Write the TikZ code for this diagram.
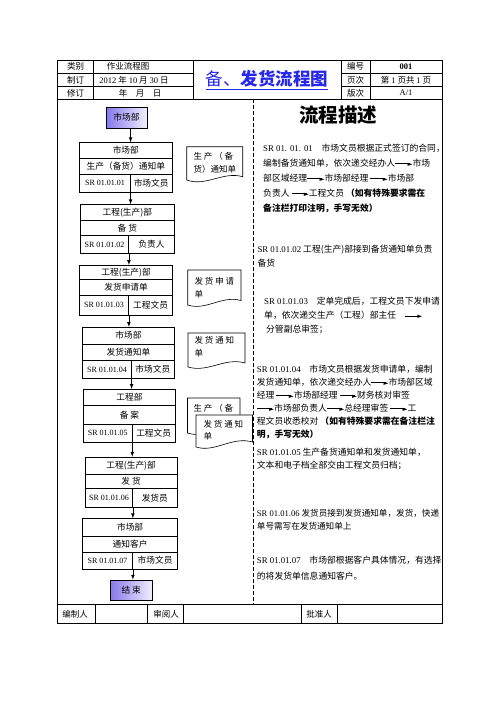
\documentclass[tikz,border=0pt]{standalone}
\usepackage{fontspec}
\setmainfont{Noto Sans CJK SC}
\newfontfamily\lat{Liberation Serif}
\newfontfamily\sym{DejaVu Sans}
\newcommand{\fsz}[2]{\fontsize{#1}{#2}\selectfont}
\newcommand{\jt}{\raisebox{0.3em}{\rule{1.7em}{0.6pt}}\kern-0.3em\raisebox{0.02em}{\sym\fsz{6.5}{6.5}►}}
\definecolor{titleblue}{RGB}{40,40,235}
\definecolor{startpurple}{RGB}{135,120,235}

\tikzset{
  cell/.style={draw, line width=0.6pt, anchor=north west, inner sep=0pt, font=\fsz{8.7}{10}},
  code/.style={font=\lat\fsz{8}{10}},
  doc/.style={draw, line width=0.6pt, fill=white},
  doctext/.style={anchor=north west, inner sep=0pt, align=left, font=\fsz{8.5}{12.5}},
  desc/.style={anchor=north west, inner sep=0pt, align=left, font=\fsz{8.8}{14}},
  hdr/.style={inner sep=0pt, font=\fsz{8.5}{10}},
  arr/.style={-latex, line width=0.7pt},
  frame/.style={line width=0.8pt},
}

\begin{document}
\begin{tikzpicture}[x=1pt, y=-1pt]
    \useasboundingbox (0,0) rectangle (496,702);

    % Frame and table lines
    \draw[frame] (57.7,60) rectangle (442,623.3);
    \draw[frame] (57.7,73.3) -- (193.3,73.3) (341,73.3) -- (442,73.3);
    \draw[frame] (57.7,86.7) -- (193.3,86.7) (341,86.7) -- (442,86.7);
    \draw[frame] (57.7,99) -- (442,99);
    \draw[frame] (93.3,60) -- (93.3,99) (193.3,60) -- (193.3,99);
    \draw[frame] (341,60) -- (341,99) (370,60) -- (370,99);
    \draw[frame] (57.7,604.3) -- (442,604.3);
    \foreach \x in {95.7,147.3,183.3,301.7,337.7}
        \draw[frame] (\x,604.3) -- (\x,623.3);
    \draw[line width=0.6pt, dash pattern=on 4pt off 2pt] (253.5,99) -- (253.5,604.3);

    % Header texts
    \node[hdr] (h1) at (75.5,66.7) {类别};
    \node[hdr] (h2) at (75.5,80) {制订};
    \node[hdr] (h3) at (75.5,92.8) {修订};
    \node[hdr] (h4) at (128,66.7) {作业流程图};
    \node[hdr] (h5) at (134,80) {{\lat 2012} 年 {\lat 10} 月\ {\lat 30} 日};
    \node[hdr] (h6) at (140,92.8) {年\quad 月\quad 日};
    \node[inner sep=0pt, text=titleblue, font=\fsz{17.5}{20}] (title) at (267,80)
        {\underline{备、{\bfseries 发货流程图}}};
    \node[hdr] (h7) at (355.5,66.7) {编号};
    \node[hdr] (h8) at (355.5,80) {页次};
    \node[hdr] (h9) at (355.5,92.8) {版次};
    \node[hdr, font=\lat\bfseries\fsz{8.5}{10}] (h10) at (406,66.7) {001};
    \node[hdr] (h11) at (406,80) {第 {\lat 1} 页共 {\lat 1} 页};
    \node[hdr, font=\lat\fsz{8.5}{10}] (h12) at (406,92.8) {A/1};

    % Footer texts
    \node[hdr] (f1) at (75,613.8) {编制人};
    \node[hdr] (f2) at (166,613.8) {审阅人};
    \node[hdr] (f3) at (319,613.8) {批准人};

    % Start
    \node[draw, line width=0.6pt, left color=startpurple, right color=startpurple!12,
          minimum width=41pt, minimum height=21pt, inner sep=0pt, font=\fsz{8.7}{10}]
          (start) at (126.5,117.6) {市场部};

    % Box 1 (市场部)
    \node[cell, minimum width=92.4pt, minimum height=16pt] (b1a) at (79.3,142.3) {市场部};
    \node[cell, minimum width=92.4pt, minimum height=16pt] (b1b) at (79.3,158.3) {生产（备货）通知单};
    \node[cell, code, minimum width=50.7pt, minimum height=17.4pt] (b1c) at (79.3,174.3) {SR 01.01.01};
    \node[cell, minimum width=41.7pt, minimum height=17.4pt] (b1d) at (130,174.3) {市场文员};

    % Box 2 (工程(生产)部 备货)
    \node[cell, minimum width=94pt, minimum height=15.7pt] (b2a) at (80,204.3) {工程(生产)部};
    \node[cell, minimum width=94pt, minimum height=15pt] (b2b) at (80,220) {备\ 货};
    \node[cell, code, minimum width=48.3pt, minimum height=18.3pt] (b2c) at (80,235) {SR 01.01.02};
    \node[cell, minimum width=45.7pt, minimum height=18.3pt] (b2d) at (128.3,235) {负责人};

    % Box 3 (工程(生产)部 发货申请单)
    \node[cell, minimum width=93pt, minimum height=14.3pt] (b3a) at (79.3,265) {工程(生产)部};
    \node[cell, minimum width=93pt, minimum height=15.7pt] (b3b) at (79.3,279.3) {发货申请单};
    \node[cell, code, minimum width=49pt, minimum height=20pt] (b3c) at (79.3,295) {SR 01.01.03};
    \node[cell, minimum width=44pt, minimum height=20pt] (b3d) at (128.3,295) {工程文员};

    % Box 4 (市场部 发货通知单)
    \node[cell, minimum width=91.7pt, minimum height=16.5pt] (b4a) at (82.3,327) {市场部};
    \node[cell, minimum width=91.7pt, minimum height=16.5pt] (b4b) at (82.3,343.5) {发货通知单};
    \node[cell, code, minimum width=48.7pt, minimum height=18.3pt] (b4c) at (82.3,360) {SR 01.01.04};
    \node[cell, minimum width=43pt, minimum height=18.3pt] (b4d) at (131,360) {市场文员};

    % Box 5 (工程部 备案)
    \node[cell, minimum width=91.7pt, minimum height=16pt] (b5a) at (83.3,389) {工程部};
    \node[cell, minimum width=91.7pt, minimum height=19.3pt] (b5b) at (83.3,405) {备\ 案};
    \node[cell, code, minimum width=48.4pt, minimum height=17.4pt] (b5c) at (83.3,424.3) {SR 01.01.05};
    \node[cell, minimum width=43.3pt, minimum height=17.4pt] (b5d) at (131.7,424.3) {工程文员};

    % Box 6 (工程(生产)部 发货)
    \node[cell, minimum width=91.7pt, minimum height=17.3pt] (b6a) at (85,456.7) {工程(生产)部};
    \node[cell, minimum width=91.7pt, minimum height=14.3pt] (b6b) at (85,474) {发\ 货};
    \node[cell, code, minimum width=47.3pt, minimum height=18.4pt] (b6c) at (85,488.3) {SR 01.01.06};
    \node[cell, minimum width=44.4pt, minimum height=18.4pt] (b6d) at (132.3,488.3) {发货员};

    % Box 7 (市场部 通知客户)
    \node[cell, minimum width=95pt, minimum height=17.4pt] (b7a) at (82.3,518.3) {市场部};
    \node[cell, minimum width=95pt, minimum height=16pt] (b7b) at (82.3,535.7) {通知客户};
    \node[cell, code, minimum width=50pt, minimum height=17.3pt] (b7c) at (82.3,551.7) {SR 01.01.07};
    \node[cell, minimum width=45pt, minimum height=17.3pt] (b7d) at (132.3,551.7) {市场文员};

    % End
    \node[draw, line width=0.6pt, left color=startpurple, right color=startpurple!12,
          minimum width=42.3pt, minimum height=20pt, inner sep=0pt, font=\fsz{8.7}{10}]
          (end) at (131.2,590) {结\ 束};

    % Arrows
    \draw[arr] (start.south -| b1c.north east) -- (b1a.north -| b1c.north east);
    \draw[arr] (b1c.south east) -- (b1c.south east |- b2a.north);
    \draw[arr] (b2c.south east) -- (b2c.south east |- b3a.north);
    \draw[arr] (b3c.south east) -- (b3c.south east |- b4a.north);
    \draw[arr] (b4c.south east) -- (b4c.south east |- b5a.north);
    \draw[arr] (b5c.south east) -- (b5c.south east |- b6a.north);
    \draw[arr] (b6c.south east) -- (b6c.south east |- b7a.north);
    \draw[arr] (b7c.south east) -- (b7c.south east |- end.north);

    % Documents
    \draw[doc] (186.7,146.7) -- (242.7,146.7) -- (242.7,176.7)
        .. controls (223,171) and (206,187) .. (186.7,180) -- cycle;
    \node[doctext] (d1) at (193.3,152.4) {生 产 （ 备\\货）通知单};
    \draw[doc] (187.7,270) -- (241,270) -- (241,300.5)
        .. controls (222,295) and (206,311) .. (187.7,305) -- cycle;
    \node[doctext] (d2) at (194.3,277.4) {发 货 申 请\\单};
    \draw[doc] (188,333) -- (245,333) -- (245,363)
        .. controls (225,357) and (208,373) .. (188,367) -- cycle;
    \node[doctext] (d3) at (194.3,336.4) {发 货 通 知\\单};
    \draw[doc] (187.5,398) -- (240,398) -- (240,429)
        .. controls (222,424) and (206,439) .. (187.5,433) -- cycle;
    \node[doctext] (d4) at (193.3,404) {生 产 （ 备};
    \draw[doc] (196,415) -- (252.5,415) -- (252.5,442)
        .. controls (232,436) and (215,453) .. (196,447) -- cycle;
    \node[doctext] (d5) at (203.3,420) {发 货 通 知\\单};

    % Description
    \node[inner sep=0pt, font=\bfseries\fsz{19.5}{22}] (desc) at (338,115) {流程描述};
    \node[desc, font=\fsz{8.8}{15}] (p1) at (263,144) {{\lat SR 01. 01. 01}\quad 市场文员根据正式签订的合同，\\
        编制备货通知单，依次递交经办人\jt 市场\\
        部区域经理\jt 市场部经理 \jt 市场部\\
        负责人 \jt 工程文员 {\bfseries （如有特殊要求需在}\\
        {\bfseries 备注栏打印注明，手写无效）}};
    \node[desc] (p2) at (257.3,245) {{\lat SR 01.01.02}\ 工程(生产)部接到备货通知单负责\\
        备货};
    \node[desc] (p3) at (264,297.3) {{\lat SR 01.01.03}\quad 定单完成后，工程文员下发申请\\
        单，依次递交生产（工程）部主任\quad\jt\\
        \ 分管副总审签；};
    \node[desc, font=\fsz{8.8}{13}] (p4) at (256.7,365) {{\lat SR 01.01.04}\quad 市场文员根据发货申请单，编制\\
        发货通知单，依次递交经办人\jt 市场部区域\\
        经理 \jt 市场部经理 \jt 财务核对审签\\
        \jt 市场部负责人\jt 总经理审签 \jt 工\\
        程文员收悉校对 {\bfseries （如有特殊要求需在备注栏注}\\
        {\bfseries 明，手写无效）}};
    \node[desc, font=\fsz{8.8}{13}] (p5) at (256.7,448) {{\lat SR 01.01.05} 生产备货通知单和发货通知单，\\
        文本和电子档全部交由工程文员归档；};
    \node[desc, font=\fsz{8.6}{13.4}] (p6) at (256.7,509) {{\lat SR 01.01.06}\ 发货员接到发货通知单，发货，快递\\
        单号需写在发货通知单上};
    \node[desc, font=\fsz{8.8}{15.3}] (p7) at (256.7,556.3) {{\lat SR 01.01.07}\quad 市场部根据客户具体情况，有选择\\
        的将发货单信息通知客户。};

\end{tikzpicture}
\end{document}
